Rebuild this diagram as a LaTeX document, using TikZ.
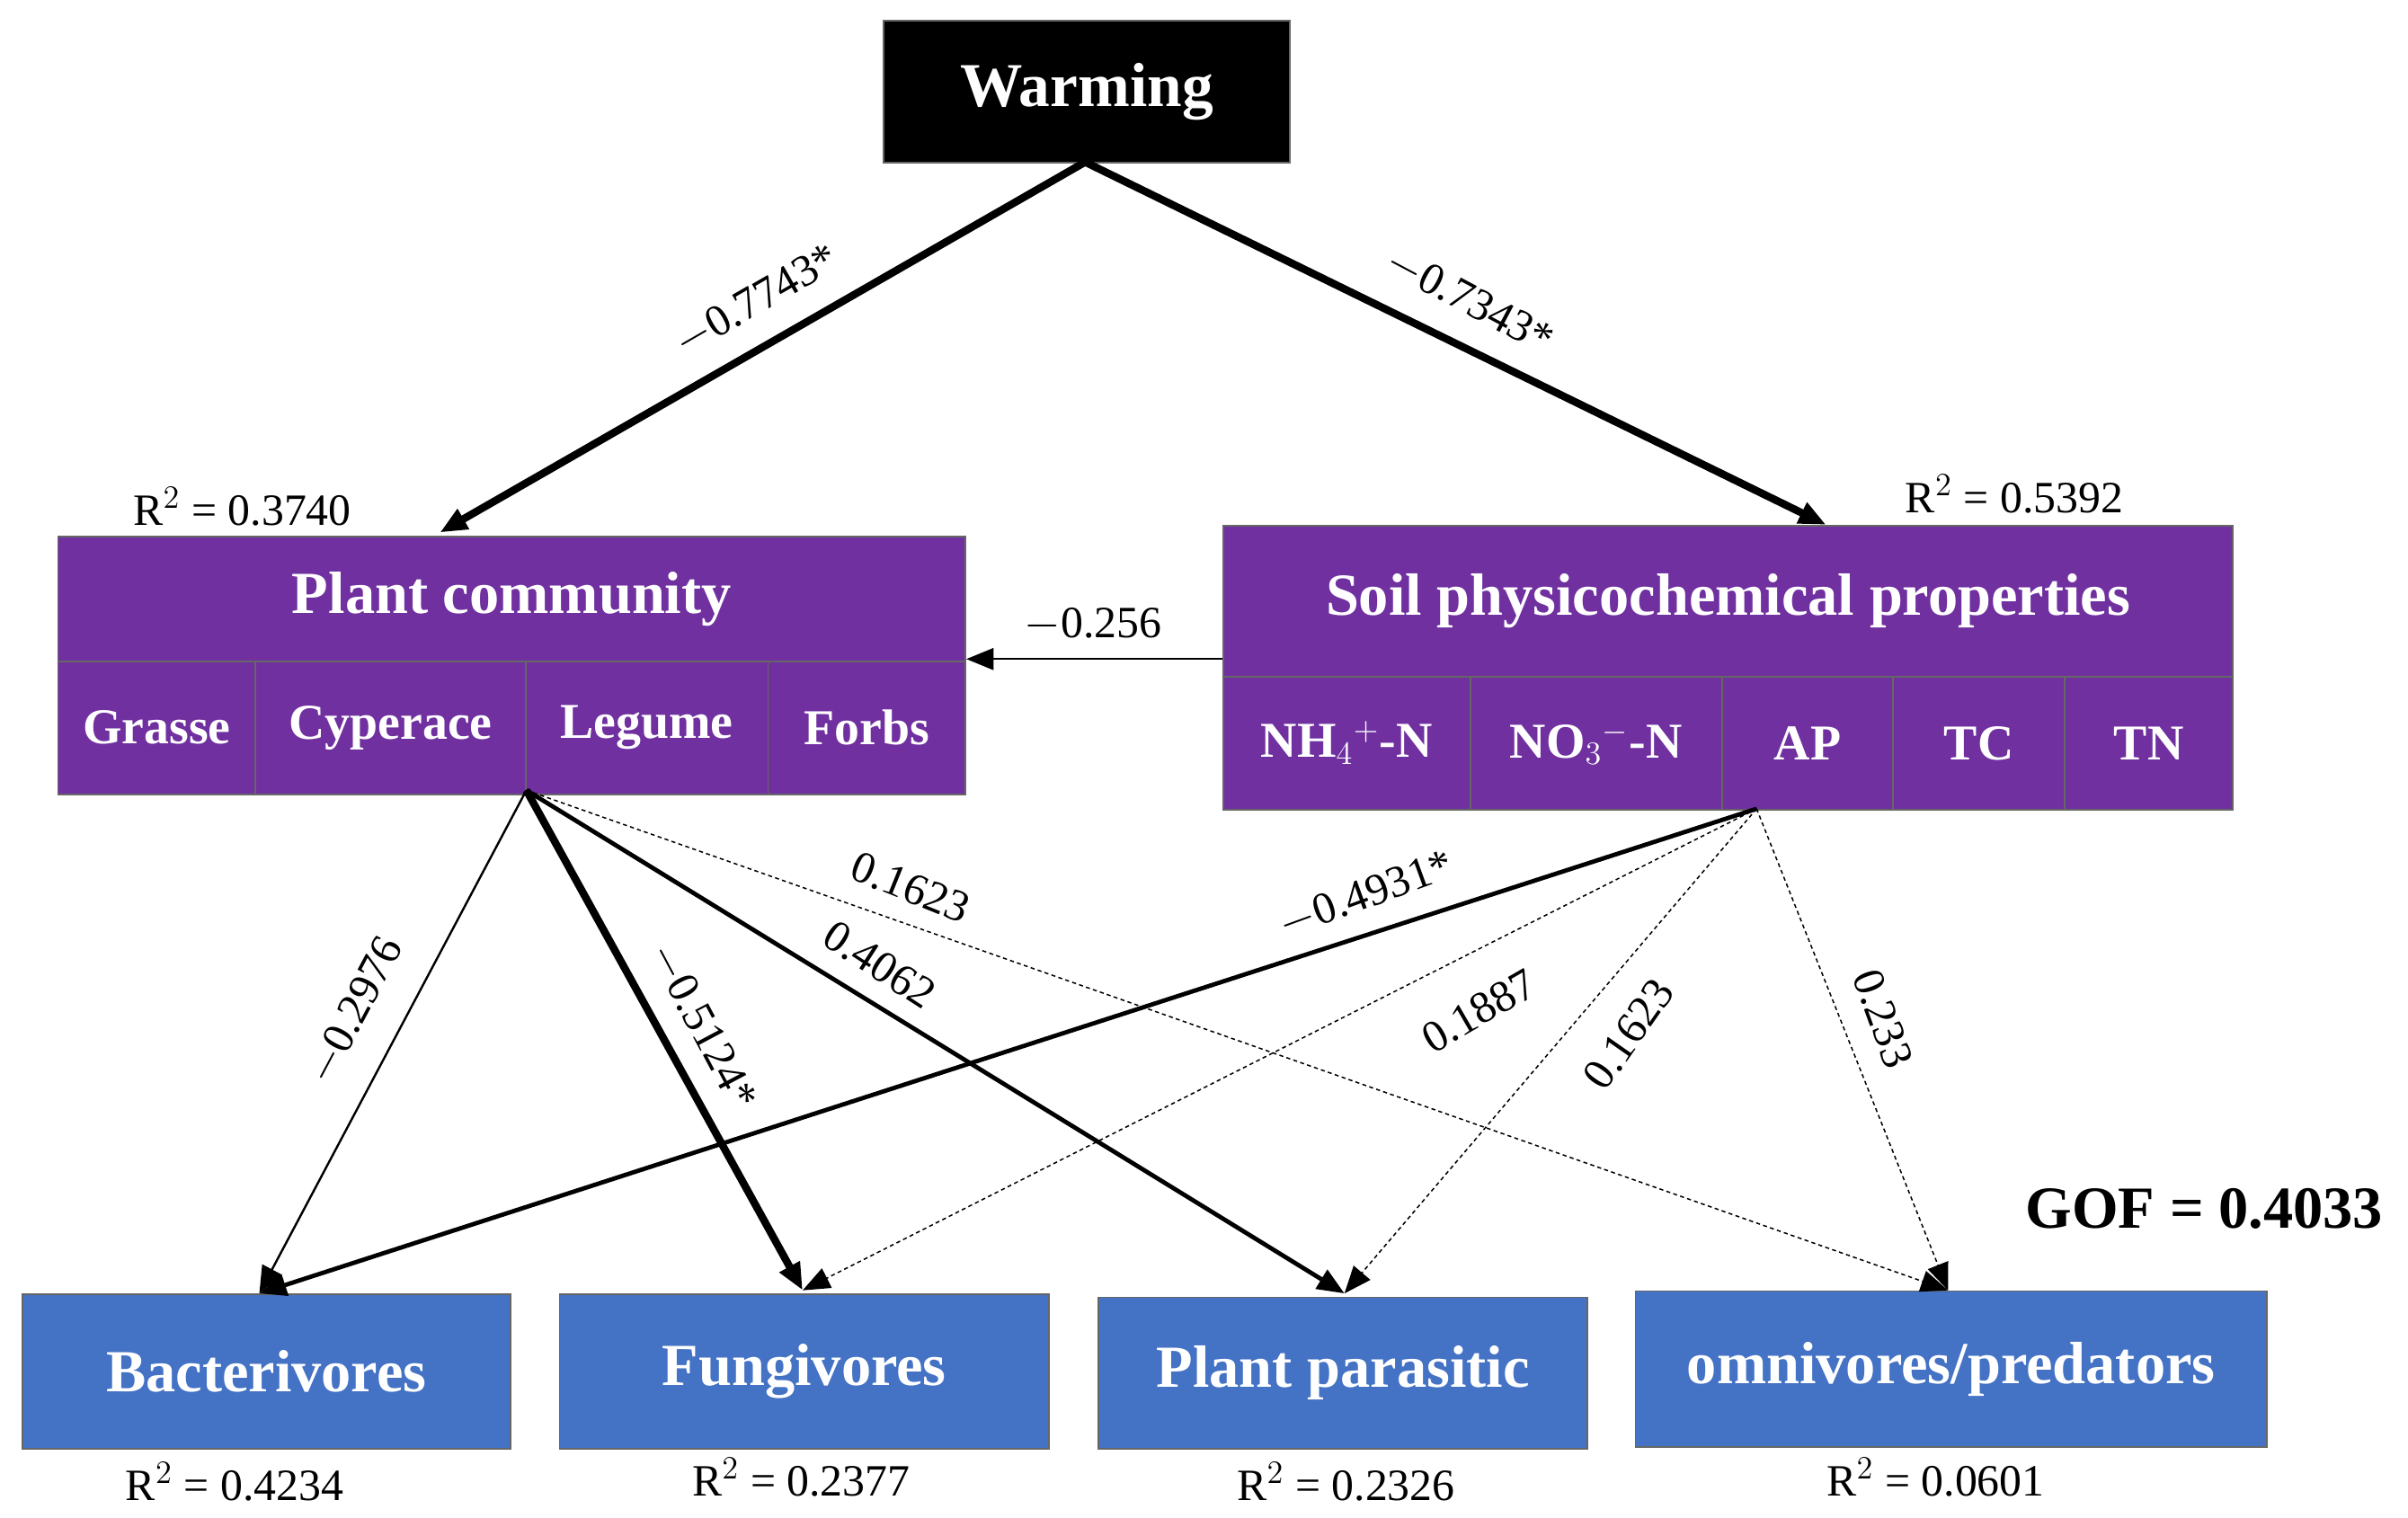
\documentclass[tikz,border=0pt]{standalone}
\usepackage{fontspec}
\setmainfont{Liberation Serif}
\usetikzlibrary{arrows.meta}
\definecolor{plantc}{RGB}{112,48,160}
\definecolor{nemac}{RGB}{68,114,196}
\tikzset{
    box/.style={draw=black!60, line width=0.6pt, text=white, font=\bfseries\fontsize{18.5}{20}\selectfont, inner sep=0pt, anchor=north west},
    plantbox/.style={box, fill=plantc},
    nemabox/.style={box, fill=nemac, font=\bfseries\fontsize{22}{24}\selectfont},
    lab/.style={font=\fontsize{16.5}{18}\selectfont, inner sep=1pt},
    path/.style={-{Triangle[length=10pt,width=8pt]}},
    strong/.style={path, line width=2.8pt},
    medium/.style={path, line width=1.6pt},
    weak/.style={path, line width=0.8pt},
    ns/.style={path, line width=0.5pt, dash pattern=on 1.5pt off 1.2pt}
}
\begin{document}
\begin{tikzpicture}[x=0.2mm, y=-0.2mm]
\useasboundingbox (0,0) rectangle (1560,983);
% boxes
\node[box, fill=black, minimum width=263*0.2mm, minimum height=92*0.2mm, font=\bfseries\fontsize{23}{25}\selectfont] (warm) at (572,13) {Warming};
\node[plantbox, minimum width=588*0.2mm, minimum height=81*0.2mm, font=\bfseries\fontsize{22}{24}\selectfont] (plant) at (37,347) {Plant community};
\node[plantbox, minimum width=128*0.2mm, minimum height=86*0.2mm] (gra) at (37,428) {Grasse};
\node[plantbox, minimum width=175*0.2mm, minimum height=86*0.2mm] (cyp) at (165,428) {Cyperace};
\node[plantbox, minimum width=157*0.2mm, minimum height=86*0.2mm] (leg) at (340,428) {Legume};
\node[plantbox, minimum width=128*0.2mm, minimum height=86*0.2mm] (forb) at (497,428) {Forbs};
\node[plantbox, minimum width=654*0.2mm, minimum height=98*0.2mm, font=\bfseries\fontsize{22}{24}\selectfont] (soil) at (792,340) {Soil physicochemical properties};
\node[plantbox, minimum width=160*0.2mm, minimum height=86*0.2mm] (nh) at (792,438) {NH$_4$$^+$-N};
\node[plantbox, minimum width=163*0.2mm, minimum height=86*0.2mm] (no) at (952,438) {NO$_3$$^-$-N};
\node[plantbox, minimum width=111*0.2mm, minimum height=86*0.2mm] (ap) at (1115,438) {AP};
\node[plantbox, minimum width=111*0.2mm, minimum height=86*0.2mm] (tc) at (1226,438) {TC};
\node[plantbox, minimum width=109*0.2mm, minimum height=86*0.2mm] (tn) at (1337,438) {TN};
\node[nemabox, minimum width=316*0.2mm, minimum height=100*0.2mm] (bac) at (14,838) {Bacterivores};
\node[nemabox, minimum width=317*0.2mm, minimum height=100*0.2mm] (fun) at (362,838) {Fungivores};
\node[nemabox, minimum width=317*0.2mm, minimum height=98*0.2mm] (par) at (711,840) {Plant parasitic};
\node[nemabox, minimum width=409*0.2mm, minimum height=101*0.2mm] (omn) at (1059,836) {omnivores/predators};
% anchor points
\coordinate (wb) at (703,105);
\coordinate (pt) at (285,345);
\coordinate (st) at (1183,340);
\coordinate (pb) at (341,512);
\coordinate (sb) at (1138,524);
\coordinate (bt) at (168,838);
\coordinate (ft) at (520,836);
\coordinate (ptt) at (871,838);
\coordinate (ot) at (1262,836);
% paths
\draw[strong] (wb) -- (pt);
\draw[strong] (wb) -- (st);
\draw[weak] (soil.west |- 0,427) -- (plant.east |- 0,427);
\draw[weak] (pb) -- (bt);
\draw[strong] (pb) -- (ft);
\draw[medium] (pb) -- (ptt);
\draw[ns] (pb) -- (ot);
\draw[medium] (sb) -- (bt);
\draw[ns] (sb) -- (ft);
\draw[ns] (sb) -- (ptt);
\draw[ns] (sb) -- (ot);
% coefficients
\node[lab, rotate=30] (c1) at (490,195) {$-$0.7743*};
\node[lab, rotate=-28] (c2) at (952,195) {$-$0.7343*};
\node[lab] (c3) at (708,405) {$-$0.256};
\node[lab, rotate=62] (c4) at (230,655) {$-$0.2976};
\node[lab, rotate=-62] (c5) at (455,665) {$-$0.5124*};
\node[lab, rotate=-33] (c6) at (570,625) {0.4062};
\node[lab, rotate=-22] (c7) at (590,575) {0.1623};
\node[lab, rotate=20] (c8) at (885,580) {$-$0.4931*};
\node[lab, rotate=30] (c9) at (958,655) {0.1887};
\node[lab, rotate=55] (c10) at (1055,670) {0.1623};
\node[lab, rotate=-70] (c11) at (1220,660) {0.233};
% R2 values
\node[lab] (r1) at (157,328) {R$^2$ = 0.3740};
\node[lab] (r2) at (1305,320) {R$^2$ = 0.5392};
\node[lab] (r3) at (152,960) {R$^2$ = 0.4234};
\node[lab] (r4) at (519,957) {R$^2$ = 0.2377};
\node[lab] (r5) at (872,960) {R$^2$ = 0.2326};
\node[lab] (r6) at (1254,957) {R$^2$ = 0.0601};
\node[font=\bfseries\fontsize{22}{24}\selectfont] (gof) at (1428,783) {GOF = 0.4033};
\end{tikzpicture}
\end{document}
